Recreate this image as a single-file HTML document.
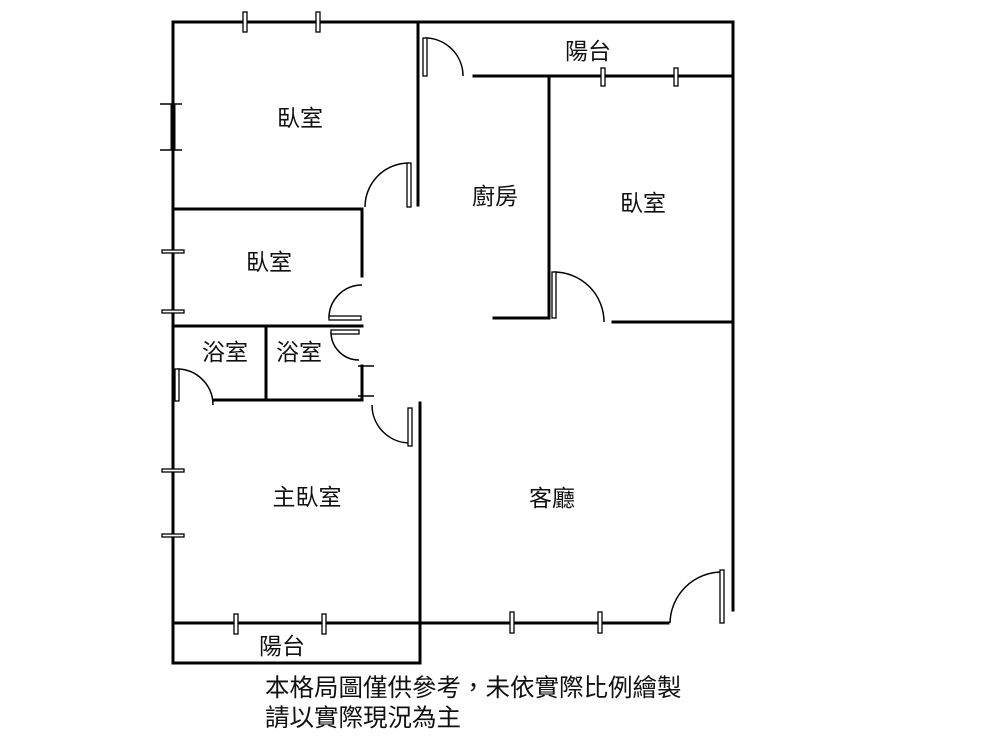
<!DOCTYPE html>
<html><head><meta charset="utf-8"><style>
body{margin:0;background:#fff;width:1000px;height:750px;overflow:hidden}
text{font-family:"Liberation Sans","Noto Sans CJK TC",sans-serif;font-size:23px;fill:#111}
.f{font-size:24.5px}
</style></head><body>
<svg width="1000" height="750" viewBox="0 0 1000 750">
<g stroke="#000" stroke-width="3" fill="none" stroke-linecap="square">
<path d="M173 22H733V610"/>
<path d="M173 22V663H420V403"/>
<path d="M173 623H668"/>
<path d="M418 22V205"/>
<path d="M474 76H733"/>
<path d="M549 76V318H494"/>
<path d="M613 322H733"/>
<path d="M173 209H362V276"/>
<path d="M173 326H362"/>
<path d="M266 326V400"/>
<path d="M214 400H362V366"/>
</g>
<path d="M173 104V150" stroke="#000" stroke-width="5"/>
<g stroke="#000" stroke-width="1.5" fill="none">
<path d="M425 38A38 38 0 0 1 463 76"/>
<path d="M554 272A50 50 0 0 1 604 322"/>
<path d="M722 572A52 52 0 0 0 670 623"/>
<path d="M409 163A44 44 0 0 0 365 207"/>
<path d="M362 285A33 33 0 0 0 329 318"/>
<path d="M331 332A28 28 0 0 0 359 360"/>
<path d="M177 369A36 36 0 0 1 213 405"/>
<path d="M372 405A38 38 0 0 0 410 443"/>
<path d="M160 104H182M160 150H182M358 366H374M358 396H374"/>
</g>
<g stroke="#000" stroke-width="1.3" fill="#fff">
<rect x="423" y="38" width="4" height="38"/>
<rect x="552" y="272" width="4" height="46"/>
<rect x="720" y="570" width="4" height="53"/>
<rect x="407" y="163" width="4" height="44"/>
<rect x="329" y="316" width="32" height="4"/>
<rect x="331" y="330" width="28" height="4"/>
<rect x="175" y="369" width="4" height="32"/>
<rect x="408" y="408" width="4" height="38"/>
<rect x="243" y="12" width="4" height="20"/>
<rect x="316" y="12" width="4" height="20"/>
<rect x="601" y="68" width="4" height="18"/>
<rect x="674" y="68" width="4" height="18"/>
<rect x="234" y="614" width="4" height="20"/>
<rect x="322" y="614" width="4" height="20"/>
<rect x="510" y="612" width="4" height="21"/>
<rect x="598" y="612" width="4" height="21"/>
<rect x="162" y="250" width="22" height="3"/>
<rect x="162" y="310" width="22" height="3"/>
<rect x="162" y="469" width="22" height="3"/>
<rect x="162" y="534" width="22" height="3"/>
</g>
<text x="300" y="126" text-anchor="middle">臥室</text>
<text x="269" y="270" text-anchor="middle">臥室</text>
<text x="225" y="360" text-anchor="middle">浴室</text>
<text x="299" y="360" text-anchor="middle">浴室</text>
<text x="307" y="505" text-anchor="middle">主臥室</text>
<text x="495" y="204" text-anchor="middle">廚房</text>
<text x="643" y="211" text-anchor="middle">臥室</text>
<text x="588" y="59" text-anchor="middle">陽台</text>
<text x="552" y="506" text-anchor="middle">客廳</text>
<text x="282" y="654" text-anchor="middle">陽台</text>
<text class="f" x="265" y="696">本格局圖僅供參考，未依實際比例繪製</text>
<text class="f" x="265" y="726">請以實際現況為主</text>
</svg>
</body></html>
